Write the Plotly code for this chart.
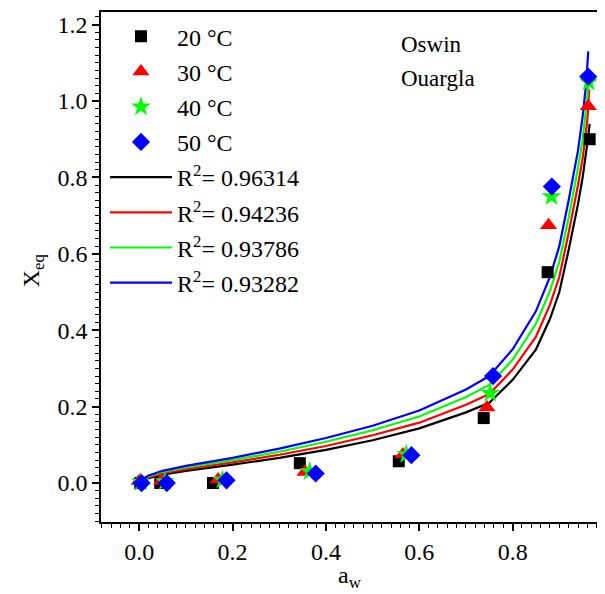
import plotly.graph_objects as go

# ---- measured data (a_w, X_eq) ----
aw_20 = [0.002, 0.045, 0.158, 0.344, 0.556, 0.738, 0.875, 0.965]
x_20 = [0.000, 0.000, 0.000, 0.052, 0.057, 0.170, 0.552, 0.900]
aw_30 = [0.000, 0.048, 0.169, 0.355, 0.565, 0.745, 0.877, 0.962]
x_30 = [0.005, 0.006, 0.009, 0.029, 0.075, 0.198, 0.675, 0.986]
aw_40 = [0.003, 0.055, 0.178, 0.365, 0.572, 0.752, 0.883, 0.963]
x_40 = [0.003, 0.004, 0.008, 0.030, 0.075, 0.235, 0.750, 1.050]
aw_50 = [0.005, 0.059, 0.187, 0.378, 0.583, 0.758, 0.884, 0.962]
x_50 = [0.000, 0.000, 0.007, 0.025, 0.073, 0.280, 0.776, 1.064]

# ---- fitted curves ----
fit_aw_20 = [0.003, 0.02, 0.05, 0.1, 0.2, 0.3, 0.4, 0.5, 0.6, 0.7, 0.75, 0.8, 0.85, 0.88, 0.9, 0.92, 0.94, 0.95, 0.96, 0.965]
fit_x_20 = [0.004, 0.013, 0.022, 0.032, 0.048, 0.066, 0.087, 0.112, 0.143, 0.185, 0.210, 0.270, 0.350, 0.430, 0.500, 0.610, 0.730, 0.800, 0.890, 0.940]
fit_aw_30 = [0.003, 0.02, 0.05, 0.1, 0.2, 0.3, 0.4, 0.5, 0.6, 0.7, 0.75, 0.8, 0.85, 0.88, 0.9, 0.92, 0.94, 0.95, 0.96, 0.964]
fit_x_30 = [0.005, 0.015, 0.025, 0.036, 0.054, 0.074, 0.097, 0.125, 0.158, 0.205, 0.233, 0.297, 0.383, 0.467, 0.540, 0.655, 0.780, 0.850, 0.950, 1.030]
fit_aw_40 = [0.003, 0.02, 0.05, 0.1, 0.2, 0.3, 0.4, 0.5, 0.6, 0.7, 0.75, 0.8, 0.85, 0.88, 0.9, 0.92, 0.94, 0.95, 0.96, 0.963]
fit_x_40 = [0.006, 0.018, 0.029, 0.041, 0.060, 0.082, 0.108, 0.138, 0.174, 0.225, 0.257, 0.323, 0.417, 0.503, 0.580, 0.695, 0.825, 0.900, 1.010, 1.080]
fit_aw_50 = [0.003, 0.02, 0.05, 0.1, 0.2, 0.3, 0.4, 0.5, 0.6, 0.7, 0.75, 0.8, 0.85, 0.88, 0.9, 0.92, 0.94, 0.95, 0.957, 0.962]
fit_x_50 = [0.007, 0.020, 0.032, 0.045, 0.066, 0.090, 0.118, 0.150, 0.190, 0.245, 0.280, 0.350, 0.450, 0.540, 0.620, 0.740, 0.870, 0.960, 1.040, 1.130]

temp_labels = ["20 °C", "30 °C", "40 °C", "50 °C"]
r2_labels = ["R<sup>2</sup>= 0.96314", "R<sup>2</sup>= 0.94236",
             "R<sup>2</sup>= 0.93786", "R<sup>2</sup>= 0.93282"]
colors = ["#000000", "#ff0000", "#00ff00", "#0000ff"]
symbols = ["square", "triangle-up", "star", "diamond"]
msizes = [12, 15, 15, 14]

FONT = "Liberation Serif, Times New Roman, serif"
fig = go.Figure()

pts = [(aw_20, x_20), (aw_30, x_30), (aw_40, x_40), (aw_50, x_50)]
fits = [(fit_aw_20, fit_x_20), (fit_aw_30, fit_x_30), (fit_aw_40, fit_x_40), (fit_aw_50, fit_x_50)]

for i in range(4):
    fig.add_trace(go.Scatter(
        x=fits[i][0], y=fits[i][1], mode="lines", name=r2_labels[i],
        line=dict(color=colors[i], width=2.2), legendrank=10 + i,
        legendgroup="f%d" % i))
for i in range(4):
    fig.add_trace(go.Scatter(
        x=pts[i][0], y=pts[i][1], mode="markers", name=temp_labels[i],
        marker=dict(symbol=symbols[i], color=colors[i], size=msizes[i],
                    line=dict(width=0)),
        legendrank=1 + i, legendgroup="p%d" % i))

axis_common = dict(
    showline=True, linecolor="black", linewidth=1.5, mirror=True,
    ticks="outside", ticklen=7, tickwidth=1.5, tickcolor="black",
    showgrid=False, zeroline=False, automargin=False,
    tickfont=dict(family=FONT, size=24, color="black"),
    minor=dict(ticks="outside", ticklen=4, tickwidth=1.2, tickcolor="black", dtick=0.02),
)

fig.update_xaxes(range=[-0.082, 0.985], tick0=0, dtick=0.2, tickformat=".1f", **axis_common)
fig.update_yaxes(range=[-0.102, 1.233], tick0=0, dtick=0.2, tickformat=".1f", **axis_common)

# axis titles
fig.add_annotation(text="a<sub>w</sub>", xref="paper", yref="paper", x=0.5, y=-0.1086,
                   xanchor="center", yanchor="middle", showarrow=False,
                   font=dict(family=FONT, size=24, color="black"))
fig.add_annotation(text="X<sub>eq</sub>", xref="paper", yref="paper", x=-0.1365, y=0.4935,
                   xanchor="center", yanchor="middle", showarrow=False, textangle=-90,
                   font=dict(family=FONT, size=24, color="black"))

fig.add_annotation(text="Oswin", xref="paper", yref="paper", x=0.598, y=0.937,
                   xanchor="left", yanchor="middle", showarrow=False,
                   font=dict(family=FONT, size=23, color="black"))
fig.add_annotation(text="Ouargla", xref="paper", yref="paper", x=0.598, y=0.8704,
                   xanchor="left", yanchor="middle", showarrow=False,
                   font=dict(family=FONT, size=23, color="black"))

fig.update_layout(
    width=597, height=586,
    margin=dict(l=93, r=6, t=4, b=72, autoexpand=False),
    plot_bgcolor="white", paper_bgcolor="white",
    font=dict(family=FONT, size=24, color="black"),
    legend=dict(x=0.008, y=0.9957, xanchor="left", yanchor="top",
                bgcolor="rgba(0,0,0,0)", borderwidth=0,
                font=dict(family=FONT, size=24, color="black"),
                tracegroupgap=1, itemwidth=62, traceorder="grouped"),
    showlegend=True,
)

fig.write_html("out.html")
